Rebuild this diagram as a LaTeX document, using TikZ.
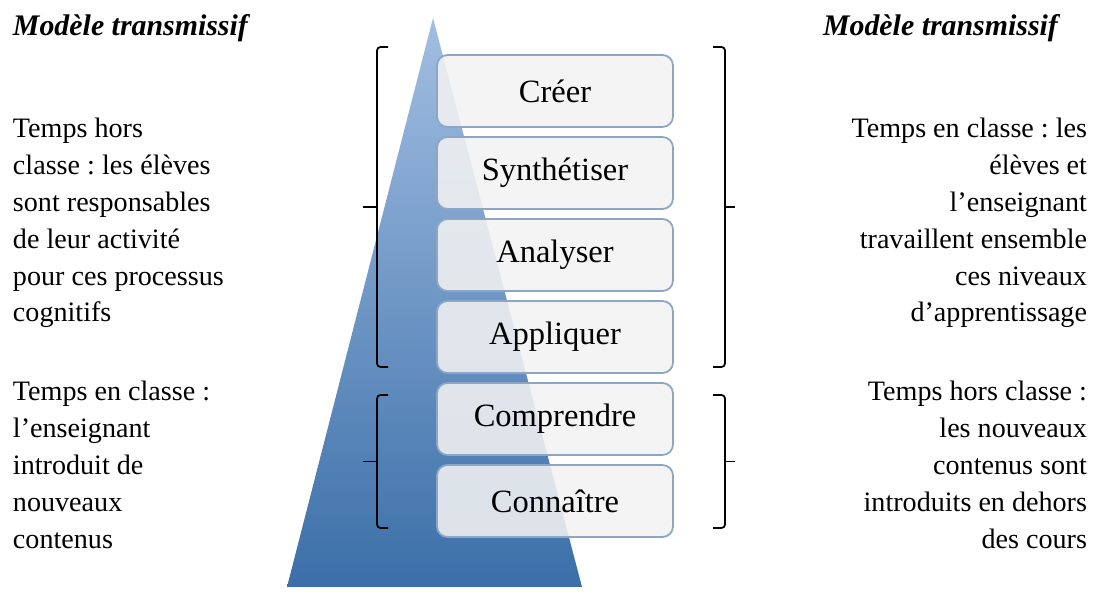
\documentclass[tikz,border=0pt]{standalone}
\usepackage{fontspec}
\setmainfont{Liberation Serif}
\usepackage{tikz}
\usetikzlibrary{positioning,calc}
\definecolor{boxline}{HTML}{8FA5C4}
\definecolor{boxfill}{HTML}{F2F2F2}
\definecolor{pyrtop}{HTML}{A2BEE2}
\definecolor{pyrbot}{HTML}{3B6FA8}
\frenchspacing

\begin{document}
\begin{tikzpicture}[node distance=0.2cm, outer sep=0pt,
    level/.style={draw=boxline, line width=1pt, rectangle, rounded corners=6pt, minimum width=4.72cm, minimum height=1.44cm, fill=boxfill, fill opacity=0.88, text opacity=1, font=\fontsize{18.5}{22}\selectfont},
    side/.style={inner sep=0pt, font=\fontsize{16}{21}\selectfont},
    title/.style={inner sep=0pt, font=\fontsize{17}{20}\selectfont\bfseries\itshape},
    brace/.style={line width=1pt, rounded corners=2pt}]
    \useasboundingbox (0,0) rectangle (21.86,11.84);

    % pyramid behind the levels
    \shade [top color=pyrtop, bottom color=pyrbot] (8.66,11.48) -- (11.64,0.10) -- (5.74,0.10) -- cycle;

    \node [level] (Creer) at (11.10,10.02) {Créer};
    \node [level, below=of Creer] (Synth) {Synthétiser};
    \node [level, below=of Synth] (Analyse) {Analyser};
    \node [level, below=of Analyse] (Appli) {Appliquer};
    \node [level, below=of Appli] (Compr) {Comprendre};
    \node [level, below=of Compr] (Conn) {Connaître};

    % brackets
    \draw [brace] (7.76,10.90) -- (7.54,10.90) -- (7.54,4.50) -- (7.76,4.50);
    \draw [brace] (7.54,7.70) -- (7.26,7.70);
    \draw [brace] (7.76,3.94) -- (7.54,3.94) -- (7.54,1.28) -- (7.76,1.28);
    \draw [brace] (7.54,2.61) -- (7.26,2.61);
    \draw [brace] (14.26,10.90) -- (14.50,10.90) -- (14.50,4.50) -- (14.26,4.50);
    \draw [brace] (14.50,7.70) -- (14.70,7.70);
    \draw [brace] (14.26,3.94) -- (14.50,3.94) -- (14.50,1.28) -- (14.26,1.28);
    \draw [brace] (14.50,2.61) -- (14.70,2.61);

    \node [title, anchor=west] (TitleL) at (0.26,11.28) {Modèle transmissif};
    \node [title, anchor=west] (TitleR) at (16.46,11.28) {Modèle transmissif};

    \node [side, anchor=west, align=left] (HorsL) at (0.26,7.38) {Temps hors\\classe : les élèves\\sont responsables\\de leur activité\\pour ces processus\\cognitifs};
    \node [side, anchor=west, align=left] (EnL) at (0.26,2.54) {Temps en classe :\\l’enseignant\\introduit de\\nouveaux\\contenus};
    \node [side, anchor=east, align=right] (EnR) at (21.74,7.38) {Temps en classe : les\\élèves et\\l’enseignant\\travaillent ensemble\\ces niveaux\\d’apprentissage};
    \node [side, anchor=east, align=right] (HorsR) at (21.74,2.54) {Temps hors classe :\\les nouveaux\\contenus sont\\introduits en dehors\\des cours};
\end{tikzpicture}
\end{document}
